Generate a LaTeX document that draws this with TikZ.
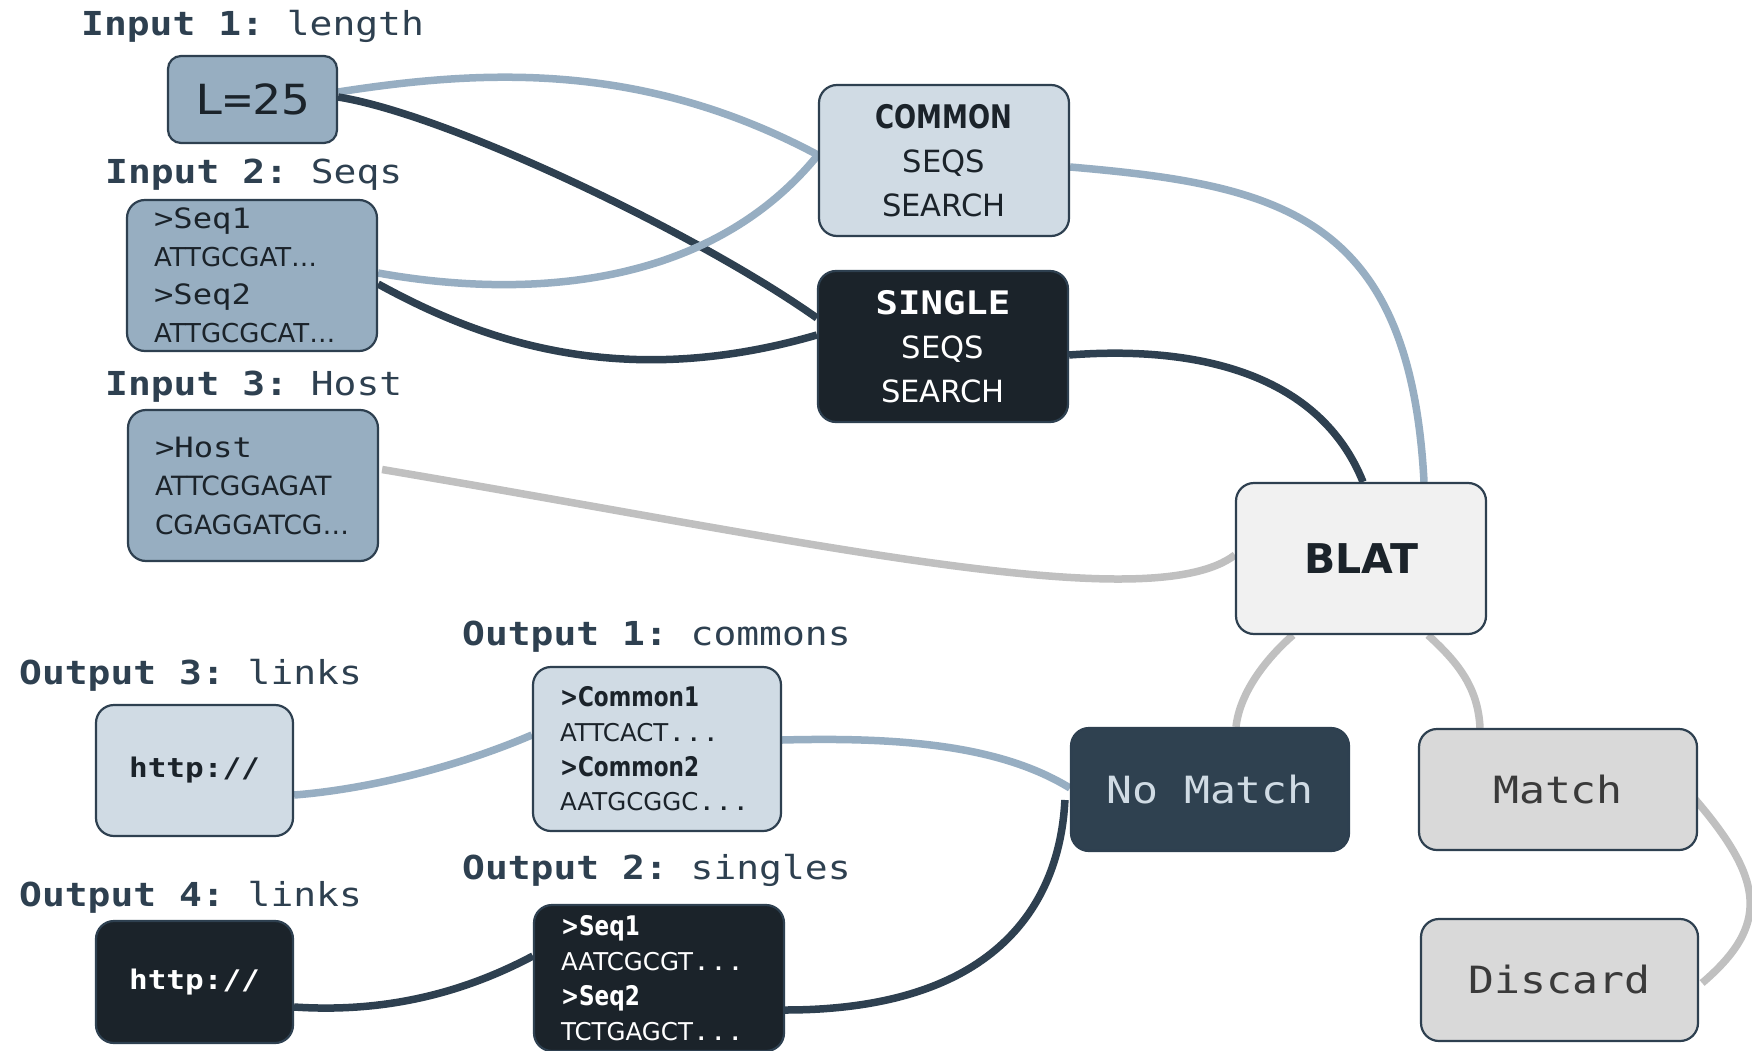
\documentclass[tikz,border=0pt]{standalone}
\usepackage{fontspec}
\setmainfont{DejaVu Sans}
\newfontfamily\monof[FakeStretch=1.15]{DejaVu Sans Mono}
\newfontfamily\sansf{DejaVu Sans}
\newfontfamily\condf[FakeStretch=0.8]{DejaVu Sans}
\newcommand\fs[2]{\fontsize{#1}{#2}\selectfont}
\usetikzlibrary{backgrounds}
\definecolor{edgec}{HTML}{2E4050}
\definecolor{inputc}{HTML}{97AEC1}
\definecolor{lightfill}{HTML}{D0DBE4}
\definecolor{darkfill}{HTML}{1B232A}
\definecolor{blatfill}{HTML}{F1F1F1}
\definecolor{nomatchfill}{HTML}{2F4150}
\definecolor{matchfill}{HTML}{D9D9D9}
\definecolor{lightline}{HTML}{97AEC2}
\definecolor{darkline}{HTML}{2E4050}
\definecolor{grayline}{HTML}{C0C0C0}
\definecolor{labc}{HTML}{2E4050}
\definecolor{textdark}{HTML}{1B232A}
\definecolor{matchtext}{HTML}{3A3A3A}
\tikzset{
  box/.style={draw=edgec, line width=2.2pt, rounded corners=18pt, inner sep=0pt, align=center},
  lbl/.style={anchor=base west, inner sep=0pt, text=labc, font=\frenchspacing\monof\fs{33}{40}},
  conn/.style={line width=7.5pt},
  lightc/.style={conn, draw=lightline},
  darkc/.style={conn, draw=darkline},
  grayc/.style={conn, draw=grayline},
}
\begin{document}
\frenchspacing
\begin{tikzpicture}[x=1pt,y=-1pt]
\useasboundingbox (0,0) rectangle (1752,1051);

% labels
\node[lbl] (in1) at (81,36) {\textbf{Input 1:} length};
\node[lbl] (in2) at (105,184) {\textbf{Input 2:} Seqs};
\node[lbl] (in3) at (105,395) {\textbf{Input 3:} Host};
\node[lbl] (out1) at (462,645) {\textbf{Output 1:} commons};
\node[lbl] (out2) at (462,879) {\textbf{Output 2:} singles};
\node[lbl] (out3) at (19,684) {\textbf{Output 3:} links};
\node[lbl] (out4) at (19,906) {\textbf{Output 4:} links};

% input boxes
\node[box, fill=inputc, minimum width=169pt, minimum height=87pt, rounded corners=13pt,
      text=textdark, font=\monof\fs{41.5}{48}] (len) at (252.5,99.5) {L=25};
\node[box, fill=inputc, minimum width=250pt, minimum height=151pt, text width=196pt, align=left,
      text=textdark, font=\sansf\fs{26}{38}] (seqs) at (252,275.5)
  {{\monof\fs{28}{38}>Seq1}\\ATTGCGAT…\\{\monof\fs{28}{38}>Seq2}\\ATTGCGCAT…};
\node[box, fill=inputc, minimum width=250pt, minimum height=151pt, text width=196pt, align=left,
      text=textdark, font=\sansf\fs{26.5}{38.5}] (host) at (253,485.5)
  {{\monof\fs{28}{38.5}>Host}\\ATTCGGAGAT\\CGAGGATCG…};

% search boxes
\node[box, fill=lightfill, minimum width=250pt, minimum height=151pt,
      text=textdark, font=\sansf\fs{30.6}{44}] (common) at (944,160.5)
  {{\condf\bfseries\fs{32.5}{44}COMMON}\\SEQS\\SEARCH};
\node[box, fill=darkfill, minimum width=250pt, minimum height=151pt,
      text=white, font=\sansf\fs{30.6}{44}] (single) at (943,346.5)
  {{\monof\bfseries\fs{32.4}{44}SINGLE}\\SEQS\\SEARCH};

% BLAT and results
\node[box, fill=blatfill, minimum width=250pt, minimum height=151pt,
      text=textdark, font=\sansf\bfseries\fs{41}{48}] (blat) at (1361,558.5) {BLAT};
\node[box, fill=nomatchfill, minimum width=278pt, minimum height=123pt,
      text=lightfill, font=\monof\fs{37.5}{45}] (nomatch) at (1210,789.5) {No Match};
\node[box, fill=matchfill, minimum width=278pt, minimum height=121pt,
      text=matchtext, font=\monof\fs{37.5}{45}] (match) at (1558,789.5) {Match};
\node[box, fill=matchfill, minimum width=277pt, minimum height=122pt,
      text=matchtext, font=\monof\fs{37.5}{45}] (discard) at (1559.5,980) {Discard};

% outputs
\node[box, fill=lightfill, minimum width=197pt, minimum height=131pt,
      text=textdark, font=\monof\bfseries\fs{27}{32}] (http1) at (194.5,770.5) {http://};
\node[box, fill=darkfill, minimum width=197pt, minimum height=122pt,
      text=white, font=\monof\bfseries\fs{27}{32}] (http2) at (194.5,982) {http://};
\node[box, fill=lightfill, minimum width=248pt, minimum height=164pt, text width=194pt, align=left,
      text=textdark, font=\sansf\fs{24.5}{34.7}] (cout) at (657,749)
  {{\condf\bfseries\fs{27}{34.7}>Common1}\\ATTCACT{\monof...}\\{\condf\bfseries\fs{27}{34.7}>Common2}\\AATGCGGC{\monof...}};
\node[box, fill=darkfill, minimum width=250pt, minimum height=146pt, text width=196pt, align=left,
      text=white, font=\sansf\fs{24.5}{35}] (sout) at (659,978)
  {{\condf\bfseries\fs{27}{35}>Seq1}\\AATCGCGT{\monof...}\\{\condf\bfseries\fs{27}{35}>Seq2}\\TCTGAGCT{\monof...}};

\begin{pgfonlayer}{background}
\fill[white] (0,0) rectangle (1752,1051);
\draw[lightc] ([yshift=7.5pt]len.east) .. controls (480,70) and (640,60) .. ([yshift=5.5pt]common.west);
\draw[darkc] ([yshift=2.5pt]len.east) .. controls (450,115) and (700,235) .. ([yshift=28.5pt]single.west);
\draw[lightc] ([yshift=2.5pt]seqs.east) .. controls (500,295) and (700,300) .. ([yshift=5.5pt]common.west);
\draw[darkc] ([yshift=-8.5pt]seqs.east) .. controls (480,340) and (620,392) .. ([yshift=11.5pt]single.west);
\draw[lightc] ([yshift=-6.5pt]common.east) .. controls (1280,185) and (1410,215) .. ([xshift=63pt]blat.north);
\draw[darkc] ([yshift=-8.5pt]single.east) .. controls (1200,345) and (1320,375) .. ([xshift=2pt]blat.north);
\draw[grayc] ([xshift=3pt,yshift=16pt]host.east) .. controls (800,540) and (1150,620) .. ([yshift=3.5pt]blat.west);
\draw[grayc] ([xshift=-68pt]blat.south) .. controls (1270,655) and (1240,690) .. ([xshift=26pt]nomatch.north);
\draw[grayc] ([xshift=67pt]blat.south) .. controls (1455,660) and (1478,685) .. ([xshift=-78pt]match.north);
\draw[grayc] ([xshift=-5pt,yshift=-7.5pt]match.east) .. controls (1765,880) and (1770,925) .. ([xshift=3pt,yshift=-3pt]discard.east);
\draw[lightc] ([yshift=9pt]cout.east) .. controls (900,737) and (1000,745) .. ([yshift=1.5pt]nomatch.west);
\draw[darkc] ([yshift=-32pt]sout.east) .. controls (1000,1010) and (1060,900) .. ([xshift=-5pt,yshift=-10.5pt]nomatch.west);
\draw[lightc] ([yshift=-24.5pt]http1.east) .. controls (360,790) and (450,770) .. ([yshift=14pt]cout.west);
\draw[darkc] ([yshift=-25pt]http2.east) .. controls (370,1012) and (450,1000) .. ([yshift=22pt]sout.west);
\end{pgfonlayer}
\end{tikzpicture}
\end{document}
